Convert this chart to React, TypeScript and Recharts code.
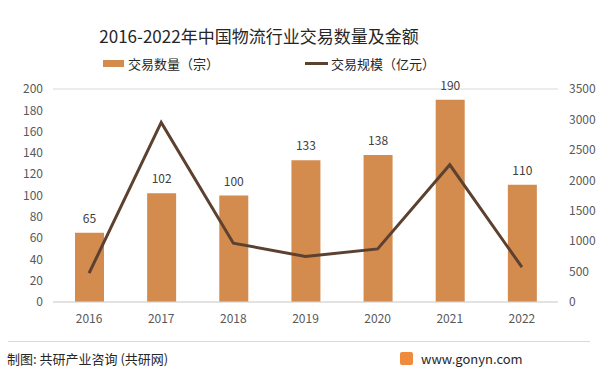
import React from "react";
import {
  ComposedChart,
  Bar,
  Line,
  XAxis,
  YAxis,
  CartesianGrid,
  LabelList,
} from "recharts";

const years = ["2016", "2017", "2018", "2019", "2020", "2021", "2022"];
const dealCounts = [65, 102, 100, 133, 138, 190, 110];
const dealAmounts = [473, 2950, 967, 748, 872, 2255, 572];
const leftTicks = [0, 20, 40, 60, 80, 100, 120, 140, 160, 180, 200];
const rightTicks = [0, 500, 1000, 1500, 2000, 2500, 3000, 3500];

const BAR_COLOR = "#D38B4E";
const LINE_COLOR = "#5C4130";
const FONT = "'Microsoft YaHei', 'Noto Sans CJK SC', 'Noto Sans', sans-serif";

const chartData = years.map((year, i) => ({
  year,
  count: dealCounts[i],
  amount: dealAmounts[i],
}));

export default function App() {
  const tick = { fill: "#595959", fontSize: 12, fontFamily: FONT };

  return (
    <div
      style={{
        position: "absolute",
        left: 0,
        top: 0,
        width: 598,
        height: 375,
        background: "#fff",
        fontFamily: FONT,
        overflow: "hidden",
      }}
    >
      {/* Title */}
      <div
        style={{
          position: "absolute",
          top: 23,
          left: 0,
          width: 518,
          textAlign: "center",
          fontSize: 17,
          color: "#262626",
        }}
      >
        2016-2022年中国物流行业交易数量及金额
      </div>

      {/* Legend */}
      <div
        style={{
          position: "absolute",
          top: 54,
          left: 103,
          display: "flex",
          alignItems: "center",
          fontSize: 13,
          color: "#262626",
        }}
      >
        <span
          style={{ width: 21, height: 7, background: BAR_COLOR, marginRight: 4 }}
        />
        交易数量（宗）
      </div>
      <div
        style={{
          position: "absolute",
          top: 54,
          left: 305,
          display: "flex",
          alignItems: "center",
          fontSize: 13,
          color: "#262626",
        }}
      >
        <span
          style={{ width: 23, height: 3, background: LINE_COLOR, marginRight: 3 }}
        />
        交易规模（亿元）
      </div>

      <div style={{ position: "absolute", left: 0, top: 0 }}>
        <ComposedChart
          width={598}
          height={375}
          data={chartData}
          margin={{ top: 89, right: 0, left: 0, bottom: 43 }}
        >
          <CartesianGrid vertical={false} stroke="#d9d9d9" />
          <XAxis
            dataKey="year"
            tick={tick}
            tickLine={false}
            tickMargin={6}
            axisLine={{ stroke: "#d9d9d9" }}
            height={30}
          />
          <YAxis
            yAxisId="left"
            width={53}
            domain={[0, 200]}
            ticks={leftTicks}
            interval={0}
            tick={tick}
            tickLine={false}
            axisLine={false}
            tickMargin={4}
          />
          <YAxis
            yAxisId="right"
            orientation="right"
            width={40}
            domain={[0, 3500]}
            ticks={rightTicks}
            interval={0}
            tick={{ ...tick, textAnchor: "start" }}
            tickLine={false}
            axisLine={false}
            tickMargin={5}
          />
          <Bar
            yAxisId="left"
            dataKey="count"
            fill={BAR_COLOR}
            barSize={29}
            isAnimationActive={false}
          >
            <LabelList
              dataKey="count"
              position="top"
              offset={10}
              style={{ fill: "#404040", fontSize: 12, fontFamily: FONT }}
            />
          </Bar>
          <Line
            yAxisId="right"
            dataKey="amount"
            stroke={LINE_COLOR}
            strokeWidth={3}
            dot={false}
            type="linear"
            isAnimationActive={false}
          />
        </ComposedChart>
      </div>

      {/* Footer */}
      <div
        style={{
          position: "absolute",
          top: 341,
          left: 8,
          width: 582,
          borderTop: "1px solid #d9d9d9",
        }}
      />
      <div
        style={{
          position: "absolute",
          top: 349,
          left: 7,
          fontSize: 13,
          color: "#262626",
        }}
      >
        制图: 共研产业咨询 (共研网)
      </div>
      <div
        style={{
          position: "absolute",
          top: 349,
          left: 400,
          display: "flex",
          alignItems: "center",
          fontSize: 13,
          color: "#262626",
        }}
      >
        <span
          style={{
            width: 13,
            height: 13,
            background: "#F08A3C",
            borderRadius: 2,
            marginRight: 8,
          }}
        />
        www.gonyn.com
      </div>
    </div>
  );
}
